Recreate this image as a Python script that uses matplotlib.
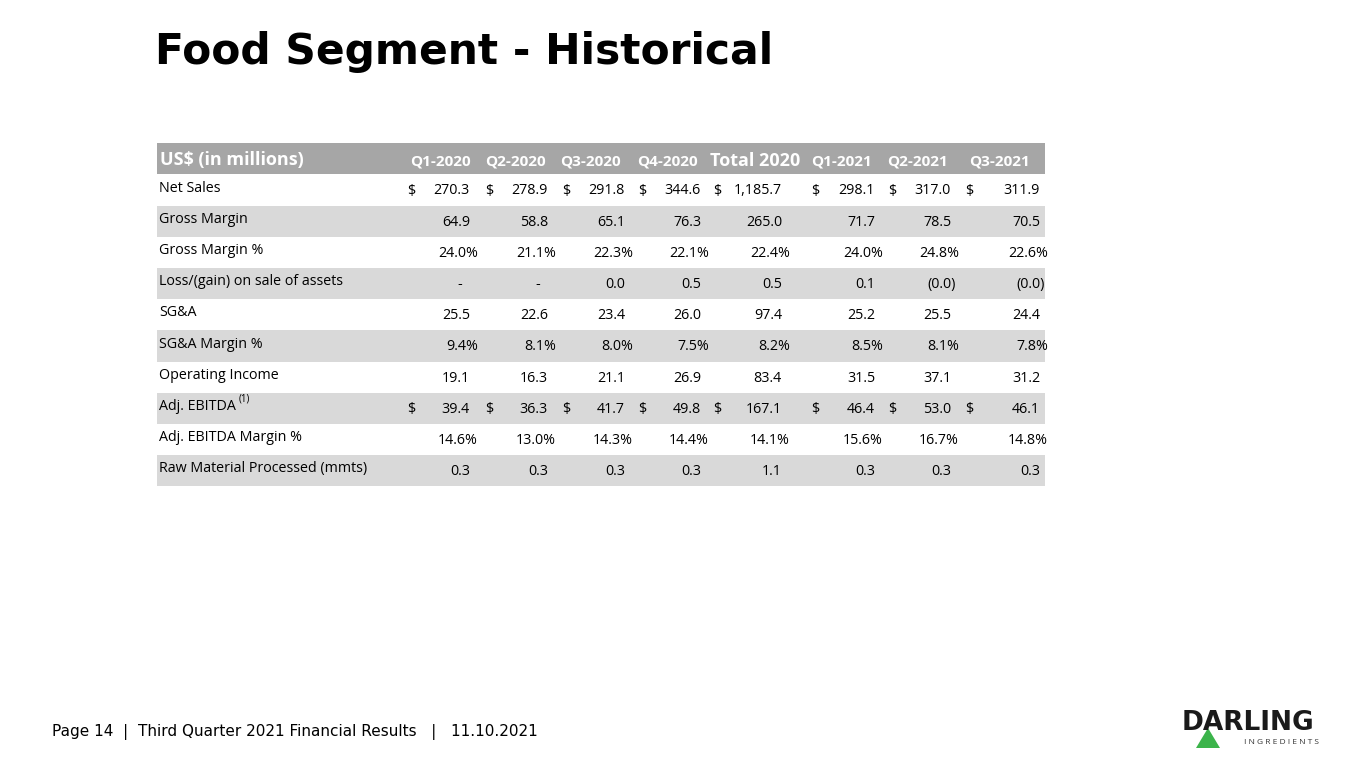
import matplotlib.pyplot as plt
from matplotlib.patches import Rectangle, Polygon

plt.rcParams['font.family'] = ['Open Sans', 'DejaVu Sans']

columns = ["Q1-2020", "Q2-2020", "Q3-2020", "Q4-2020", "Total 2020", "Q1-2021", "Q2-2021", "Q3-2021"]
row_labels = ["Net Sales", "Gross Margin", "Gross Margin %", "Loss/(gain) on sale of assets", "SG&A",
              "SG&A Margin %", "Operating Income", "Adj. EBITDA", "Adj. EBITDA Margin %",
              "Raw Material Processed (mmts)"]
net_sales = ["270.3", "278.9", "291.8", "344.6", "1,185.7", "298.1", "317.0", "311.9"]
gross_margin = ["64.9", "58.8", "65.1", "76.3", "265.0", "71.7", "78.5", "70.5"]
gross_margin_pct = ["24.0%", "21.1%", "22.3%", "22.1%", "22.4%", "24.0%", "24.8%", "22.6%"]
loss_gain = ["-", "-", "0.0", "0.5", "0.5", "0.1", "(0.0)", "(0.0)"]
sga = ["25.5", "22.6", "23.4", "26.0", "97.4", "25.2", "25.5", "24.4"]
sga_pct = ["9.4%", "8.1%", "8.0%", "7.5%", "8.2%", "8.5%", "8.1%", "7.8%"]
op_income = ["19.1", "16.3", "21.1", "26.9", "83.4", "31.5", "37.1", "31.2"]
adj_ebitda = ["39.4", "36.3", "41.7", "49.8", "167.1", "46.4", "53.0", "46.1"]
adj_ebitda_pct = ["14.6%", "13.0%", "14.3%", "14.4%", "14.1%", "15.6%", "16.7%", "14.8%"]
raw_material = ["0.3", "0.3", "0.3", "0.3", "1.1", "0.3", "0.3", "0.3"]
table = [net_sales, gross_margin, gross_margin_pct, loss_gain, sga, sga_pct,
         op_income, adj_ebitda, adj_ebitda_pct, raw_material]
dollar_rows = {0, 7}

W, H = 1365, 768
fig = plt.figure(figsize=(W / 100, H / 100), dpi=100)
ax = fig.add_axes([0, 0, 1, 1])
ax.set_xlim(0, W)
ax.set_ylim(H, 0)
ax.axis("off")

ax.text(155, 52, "Food Segment - Historical", fontsize=30.5, fontweight="bold",
        family="DejaVu Sans", va="center", ha="left", color="black")

x0, x1 = 157, 1045
ax.add_patch(Rectangle((x0, 143), x1 - x0, 31, color="#a6a6a6", lw=0))
ax.text(160, 160, "US$ (in millions)", fontsize=13, fontweight="bold", color="white", va="center")
head_x = [440, 515, 590, 667, 755, 841, 917, 1000]
for c, hx in zip(columns, head_x):
    fs = 13 if c.startswith("Total") else 11
    ax.text(hx, 161, c, fontsize=fs, fontweight="bold", color="white", va="center", ha="center")

val_right = [470, 548, 625, 701, 782, 875, 951, 1040]
dollar_x = [411, 489, 566, 642, 717, 815, 892, 969]
rh = 31.2
for i, (lab, vals) in enumerate(zip(row_labels, table)):
    yc = 190 + i * rh
    if i % 2 == 1:
        ax.add_patch(Rectangle((x0, yc - rh / 2), x1 - x0, rh, color="#d9d9d9", lw=0))
    ax.text(159, yc - 2, lab, fontsize=10.3, va="center", ha="left")
    if lab == "Adj. EBITDA":
        ax.text(239, yc - 9, "(1)", fontsize=7, va="center", ha="left")
    for j, v in enumerate(vals):
        r = val_right[j]
        if v.endswith("%"):
            r += 8
        elif v.endswith(")"):
            r += 5
        elif v == "-":
            r -= 8
        ax.text(r, yc + 1, v, fontsize=10.3, va="center", ha="right")
        if i in dollar_rows:
            ax.text(dollar_x[j], yc + 1, "$", fontsize=10.3, va="center", ha="center")

ax.text(52, 732, "Page 14  |  Third Quarter 2021 Financial Results   |   11.10.2021",
        fontsize=11, va="center", ha="left", family="DejaVu Sans")

# logo
ax.text(1248, 723, "DARLING", fontsize=19, fontweight="bold", va="center", ha="center",
        color="#1a1a1a", family="DejaVu Sans")
ax.text(1281, 743, "I N G R E D I E N T S", fontsize=6, va="center", ha="center", color="#333333")
ax.add_patch(Polygon([[1196, 748], [1208, 728], [1220, 748]], closed=True, color="#3cb44b", lw=0))

fig.savefig("out.png", dpi=100)
